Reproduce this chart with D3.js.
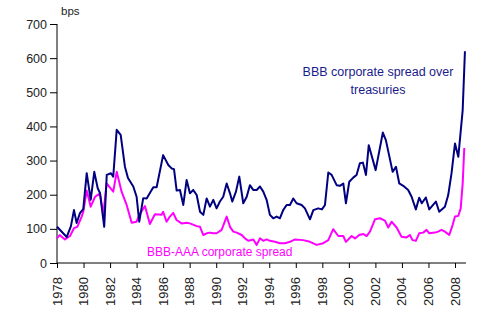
<!DOCTYPE html>
<html><head><meta charset="utf-8">
<script src="https://cdn.jsdelivr.net/npm/d3@7"></script>
<style>body{margin:0;background:#fff}svg{display:block}text{font-family:"Liberation Sans",Arial,sans-serif}</style>
</head><body><svg id="c" width="500" height="334"></svg>
<script>
const bbbYears=[1978.0,1978.73,1979.05,1979.28,1979.48,1979.73,1979.98,1980.24,1980.54,1980.81,1981.07,1981.24,1981.56,1981.75,1982.07,1982.24,1982.5,1982.8,1983.12,1983.35,1983.75,1984.0,1984.2,1984.5,1984.76,1985.0,1985.26,1985.51,1986.0,1986.39,1986.64,1986.82,1987.02,1987.27,1987.52,1987.77,1988.02,1988.27,1988.53,1988.78,1989.03,1989.28,1989.53,1989.78,1990.03,1990.28,1990.53,1990.79,1991.04,1991.21,1991.49,1991.74,1992.04,1992.3,1992.54,1992.79,1993.05,1993.3,1993.55,1993.8,1994.05,1994.3,1994.56,1994.8,1995.05,1995.31,1995.56,1995.81,1996.06,1996.44,1996.69,1997.07,1997.32,1997.69,1997.97,1998.2,1998.45,1998.7,1999.08,1999.33,1999.58,1999.78,2000.03,2000.33,2000.58,2000.83,2001.06,2001.29,2001.5,2002.02,2002.56,2002.79,2003.3,2003.55,2003.8,2004.1,2004.47,2004.73,2005.05,2005.3,2005.5,2005.8,2006.06,2006.56,2006.81,2007.24,2007.49,2007.74,2008.0,2008.25,2008.58,2008.75];
const bbbValues=[106,76,108,155,117,146,158,263,185,267,219,205,106,258,263,253,390,375,282,249,224,194,121,190,189,205,222,222,316,287,277,275,212,214,170,243,204,214,199,150,141,189,165,185,160,180,194,233,204,180,209,253,175,194,228,214,214,224,209,185,141,131,136,131,155,170,170,189,175,170,160,128,155,160,157,170,265,258,228,226,233,175,238,250,258,292,294,258,345,272,382,360,267,282,233,226,214,194,157,191,175,192,157,180,150,165,199,263,350,311,448,620];
const aaaYears=[1978.0,1978.2,1978.6,1978.98,1979.28,1979.53,1979.86,1979.98,1980.24,1980.54,1980.87,1981.24,1981.49,1981.74,1982.24,1982.5,1982.87,1983.25,1983.63,1984.0,1984.2,1984.63,1985.0,1985.38,1985.88,1986.0,1986.26,1986.51,1986.76,1987.01,1987.39,1987.77,1988.02,1988.53,1988.78,1989.03,1989.28,1989.53,1989.78,1990.03,1990.41,1990.79,1991.04,1991.29,1991.55,1991.92,1992.17,1992.42,1992.8,1993.05,1993.3,1993.55,1993.8,1994.05,1994.43,1994.8,1995.18,1995.56,1995.94,1996.56,1997.07,1997.57,1998.07,1998.45,1998.82,1999.2,1999.58,1999.78,2000.21,2000.46,2000.78,2001.09,2001.34,2001.59,2001.97,2002.34,2002.72,2002.97,2003.22,2003.6,2003.97,2004.35,2004.6,2004.8,2005.05,2005.3,2005.6,2005.86,2006.06,2006.48,2006.73,2006.99,2007.24,2007.57,2007.82,2008.0,2008.25,2008.43,2008.58,2008.7];
const aaaValues=[72,82,69,79,102,106,136,150,212,165,194,204,141,233,209,267,209,170,118,121,141,167,114,143,141,150,121,136,147,126,116,118,116,108,106,82,87,89,87,87,97,136,106,92,89,82,72,65,69,53,72,65,69,65,62,58,58,62,69,67,62,53,58,67,99,79,79,62,79,72,82,85,79,92,128,131,124,104,121,104,77,75,82,67,65,87,89,97,87,89,92,97,92,82,111,136,138,160,233,337];
const yTicks=[0,100,200,300,400,500,600,700];
const xTicks=[1978,1980,1982,1984,1986,1988,1990,1992,1994,1996,1998,2000,2002,2004,2006,2008];
const unitLabel="bps";
const bbbLabel=["BBB corporate spread over","treasuries"];
const aaaLabel="BBB-AAA corporate spread";

const svg=d3.select("#c");
const x=d3.scaleLinear().domain([1978,2008.83]).range([57,466]);
const y=d3.scaleLinear().domain([0,700]).range([263,24]);

const ya=svg.append("g").attr("transform","translate(57,0)")
  .call(d3.axisLeft(y).tickValues(yTicks).tickSize(7).tickPadding(3).tickFormat(d3.format("d")));
ya.select(".domain").attr("stroke","#000").attr("d","M0,24V263");
ya.selectAll("line").attr("stroke","#000");
ya.selectAll("text").attr("font-size","12.5px").attr("fill","#222").attr("font-family","Liberation Sans, Arial, sans-serif");

const xa=svg.append("g").attr("transform","translate(0,263)")
  .call(d3.axisBottom(x).tickValues(xTicks).tickSize(5).tickFormat(""));
xa.select(".domain").attr("stroke","#000").attr("d","M57,0H466");
xa.selectAll("line").attr("stroke","#000");
svg.append("g").selectAll("text").data(xTicks).join("text")
  .attr("transform",d=>`translate(${x(d)},277) rotate(-90)`)
  .attr("text-anchor","end").attr("dy","0.35em")
  .attr("font-size","13px").attr("fill","#222").text(d=>d);

svg.append("text").attr("x",61).attr("y",15).attr("font-size","11.5px").attr("fill","#222").text(unitLabel);

const line=d3.line().x(d=>x(d[0])).y(d=>y(d[1]));
svg.append("path").datum(aaaYears.map((t,i)=>[t,aaaValues[i]]))
  .attr("d",line).attr("fill","none").attr("stroke","#ff00ff").attr("stroke-width",2).attr("stroke-linejoin","round");
svg.append("path").datum(bbbYears.map((t,i)=>[t,bbbValues[i]]))
  .attr("d",line).attr("fill","none").attr("stroke","#000080").attr("stroke-width",2).attr("stroke-linejoin","round");

svg.append("g").selectAll("text").data(bbbLabel).join("text")
  .attr("x",378).attr("y",(d,i)=>76+i*17.5).attr("text-anchor","middle")
  .attr("font-size","12.5px").attr("fill","#1a1a8a").text(d=>d);
svg.append("text").attr("x",147).attr("y",256).attr("font-size","12px").attr("fill","#ff00ff").text(aaaLabel);
</script></body></html>
